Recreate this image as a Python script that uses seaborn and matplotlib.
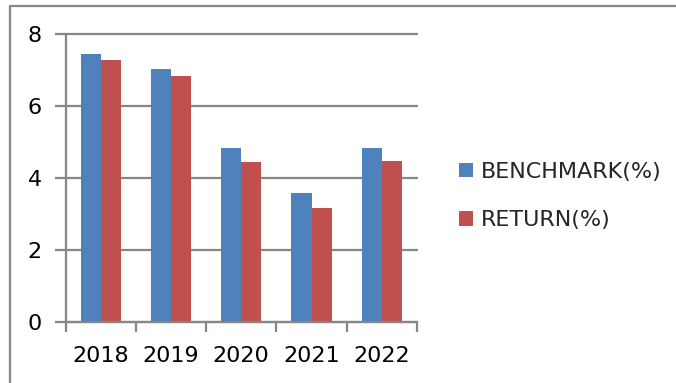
import matplotlib
matplotlib.use("Agg")
import matplotlib.pyplot as plt
from matplotlib.lines import Line2D
import seaborn as sns
import pandas as pd

years = ["2018", "2019", "2020", "2021", "2022"]
benchmark = [7.44, 7.04, 4.82, 3.57, 4.84]
returns = [7.28, 6.84, 4.45, 3.16, 4.47]
series_names = ["BENCHMARK(%)", "RETURN(%)"]
colors = ["#4F81BD", "#C0504D"]

df = pd.DataFrame({
    "year": years * 2,
    "value": benchmark + returns,
    "series": [series_names[0]] * len(years) + [series_names[1]] * len(years),
})

sns.set_theme(style="white")
plt.rcParams["font.family"] = ["DejaVu Sans"]

W, H = 676, 383
fig = plt.figure(figsize=(W / 100, H / 100), dpi=100)
ax = fig.add_axes([65.5 / W, (H - 322) / H, (417 - 65.5) / W, (322 - 34) / H])

sns.barplot(data=df, x="year", y="value", hue="series", palette=colors,
            width=0.572, gap=0, linewidth=0, saturation=1, ax=ax, legend=True)

grey = "#868686"
ax.set_ylim(0, 8)
ax.set_xlim(-0.5, len(years) - 0.5)
ax.set_yticks([0, 2, 4, 6, 8])
ax.set_yticklabels(["0", "2", "4", "6", "8"])
ax.yaxis.grid(True, color=grey, linewidth=1.6)
for gl in ax.get_ygridlines():
    gl.set_clip_on(False)
ax.set_axisbelow(True)
ax.set_xlabel("")
ax.set_ylabel("")

for s in ["top", "right"]:
    ax.spines[s].set_visible(False)
for s in ["left", "bottom"]:
    ax.spines[s].set_color(grey)
    ax.spines[s].set_linewidth(1.6)

ax.tick_params(axis="y", which="major", direction="out", length=8, width=1.6,
               color=grey, labelsize=16, pad=9, left=True, labelcolor="black")
ax.set_xticks(range(len(years)))
ax.set_xticks([i - 0.5 for i in range(len(years) + 1)], minor=True)
ax.tick_params(axis="x", which="major", length=0, labelsize=16, pad=17,
               labelcolor="black")
ax.tick_params(axis="x", which="minor", direction="out", length=7, width=1.6,
               color=grey, bottom=True)

leg = ax.legend(loc="center left", bbox_to_anchor=(459 / W, 1 - 196 / H),
                bbox_transform=fig.transFigure, frameon=False, fontsize=16,
                handlelength=0.62, handleheight=0.62, handletextpad=0.35,
                labelspacing=1.3, borderpad=0, borderaxespad=0)

# outer chart border (top and left edges)
fig.add_artist(Line2D([9.5 / W, 9.5 / W], [0, 1 - 5.5 / H], transform=fig.transFigure,
                      color=grey, linewidth=1.6))
fig.add_artist(Line2D([9.5 / W, 1], [1 - 5.5 / H, 1 - 5.5 / H], transform=fig.transFigure,
                      color=grey, linewidth=1.6))

fig.savefig("out.png", dpi=100)
